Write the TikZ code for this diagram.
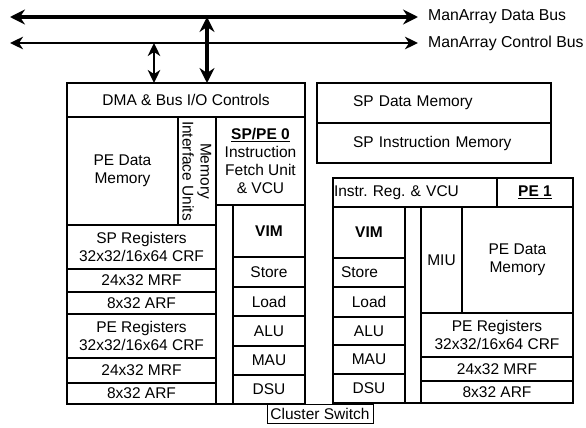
\documentclass[tikz,border=0pt]{standalone}
\usepackage{fontspec}
\setmainfont{Liberation Sans}
\usepackage{tikz}
\usetikzlibrary{arrows.meta, positioning}
\newcommand{\boxfont}{\fontsize{15.5}{18}\selectfont}
\newcommand{\busfont}{\fontsize{15.8}{18}\selectfont}
\frenchspacing

\begin{document}
\begin{tikzpicture}[x=1pt, y=-1pt,
  cell/.style={draw, line width=1.2pt, inner sep=0pt, outer sep=0pt,
               align=center, font=\boxfont},
  databus/.style={{Stealth[length=15pt,width=15pt,inset=5pt]}-{Stealth[length=15pt,width=15pt,inset=5pt]},
                  line width=3.2pt},
  ctrlbus/.style={{Stealth[length=13pt,width=12.5pt,inset=4pt]}-{Stealth[length=13pt,width=12.5pt,inset=4pt]},
                  line width=2.2pt},
  buslabel/.style={anchor=west, inner sep=0pt, font=\busfont}
]
  \useasboundingbox (0,0) rectangle (586,428);

  % SP/PE 0 cluster
  \node[cell, minimum width=238pt, minimum height=321pt, anchor=north west] (pe0) at (67,83) {};
  \node[cell, minimum width=238pt, minimum height=34pt, anchor=north west] (dma) at (67,83)
    {DMA \& Bus I/O Controls};
  \node[cell, minimum width=111pt, minimum height=108pt, anchor=north west] (pedm0) at (67,117)
    {PE Data\\Memory};
  \node[cell, rotate=-90, minimum width=108pt, minimum height=38pt] (miu0) at (197,171)
    {Memory\\Interface Units};
  \node[cell, minimum width=89pt, minimum height=88pt, anchor=north west] (sppe0) at (216,117)
    {\underline{\textbf{SP/PE 0}}\\Instruction\\Fetch Unit\\\& VCU};

  \node[cell, minimum width=149pt, minimum height=44pt, anchor=north west] (spcrf) at (67,225)
    {SP Registers\\32x32/16x64 CRF};
  \node[cell, minimum width=149pt, minimum height=23pt, below=0pt of spcrf] (spmrf) {24x32 MRF};
  \node[cell, minimum width=149pt, minimum height=22pt, below=0pt of spmrf] (sparf) {8x32 ARF};
  \node[cell, minimum width=149pt, minimum height=44pt, below=0pt of sparf] (pecrf0)
    {PE Registers\\32x32/16x64 CRF};
  \node[cell, minimum width=149pt, minimum height=25pt, below=0pt of pecrf0] (pemrf0) {24x32 MRF};
  \node[cell, minimum width=149pt, minimum height=21pt, below=0pt of pemrf0] (pearf0) {8x32 ARF};

  \node[cell, minimum width=72pt, minimum height=52pt, anchor=north west] (vim0) at (233,205)
    {\textbf{VIM}};
  \node[cell, minimum width=72pt, minimum height=30pt, below=0pt of vim0] (store0) {Store};
  \node[cell, minimum width=72pt, minimum height=29pt, below=0pt of store0] (load0) {Load};
  \node[cell, minimum width=72pt, minimum height=30pt, below=0pt of load0] (alu0) {ALU};
  \node[cell, minimum width=72pt, minimum height=29pt, below=0pt of alu0] (mau0) {MAU};
  \node[cell, minimum width=72pt, minimum height=29pt, below=0pt of mau0] (dsu0) {DSU};

  \node[cell, line width=1pt, minimum width=106pt, minimum height=19pt, anchor=north west] (cswitch)
    at (267,404) {Cluster Switch};

  % SP memories
  \node[cell, minimum width=234pt, minimum height=40pt, text width=162pt, align=left,
        anchor=north west] (spdm) at (317,83) {SP Data Memory};
  \node[cell, minimum width=234pt, minimum height=40pt, text width=162pt, align=left,
        below=0pt of spdm] (spim) {SP Instruction Memory};

  % PE 1 cluster
  \node[cell, minimum width=240pt, minimum height=225pt, anchor=north west] (pe1) at (333,178) {};
  \node[cell, minimum width=164pt, minimum height=29pt, text width=162pt, align=left,
        anchor=north west] (ireg1) at (333,178) {Instr. Reg. \& VCU};
  \node[cell, minimum width=76pt, minimum height=29pt, anchor=north west] (pelbl1) at (497,178)
    {\underline{\textbf{PE 1}}};

  \node[cell, minimum width=72pt, minimum height=51pt, anchor=north west] (vim1) at (333,207)
    {\textbf{VIM}};
  \node[cell, minimum width=72pt, minimum height=29pt, text width=56pt, align=left,
        below=0pt of vim1] (store1) {Store};
  \node[cell, minimum width=72pt, minimum height=30pt, below=0pt of store1] (load1) {Load};
  \node[cell, minimum width=72pt, minimum height=28pt, below=0pt of load1] (alu1) {ALU};
  \node[cell, minimum width=72pt, minimum height=29pt, below=0pt of alu1] (mau1) {MAU};
  \node[cell, minimum width=72pt, minimum height=29pt, below=0pt of mau1] (dsu1) {DSU};

  \node[cell, minimum width=41pt, minimum height=106pt, anchor=north west] (miu1) at (421,207) {MIU};
  \node[cell, minimum width=111pt, minimum height=106pt, anchor=north west] (pedm1) at (462,207)
    {PE Data\\Memory};
  \node[cell, minimum width=152pt, minimum height=44pt, anchor=north west] (pecrf1) at (421,313)
    {PE Registers\\32x32/16x64 CRF};
  \node[cell, minimum width=152pt, minimum height=24pt, below=0pt of pecrf1] (pemrf1) {24x32 MRF};
  \node[cell, minimum width=152pt, minimum height=22pt, below=0pt of pemrf1] (pearf1) {8x32 ARF};

  % buses
  \coordinate (dleft) at (10,17);
  \coordinate (dright) at (418,17);
  \coordinate (cleft) at (10,43);
  \coordinate (cright) at (418,43);
  \coordinate (dtap) at (207,17);
  \coordinate (ctap) at (154,43);

  \node[buslabel] (dlabel) at (428,17) {ManArray Data Bus};
  \node[buslabel] (clabel) at (428,43) {ManArray Control Bus};

  \draw[databus] (dleft) -- (dright);
  \draw[ctrlbus] (cleft) -- (cright);
  \draw[databus] (dtap) -- (dtap |- dma.north);
  \draw[ctrlbus] (ctap) -- (ctap |- dma.north);
\end{tikzpicture}
\end{document}
